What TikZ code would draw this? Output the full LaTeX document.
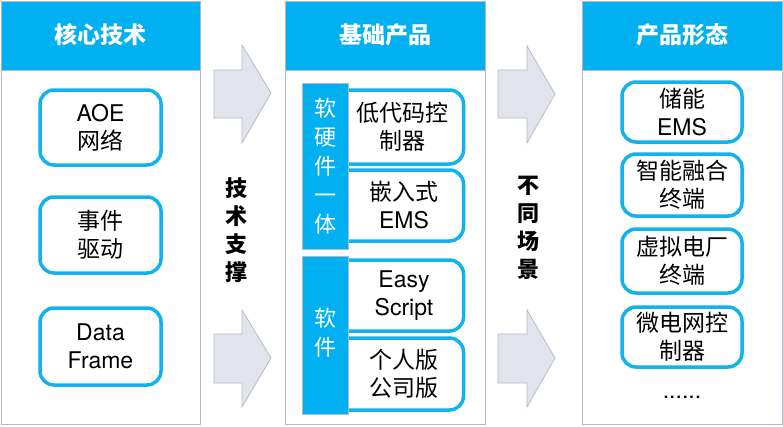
\documentclass[tikz,border=0pt]{standalone}
\usepackage{fontspec}
\setmainfont{TeX Gyre Heros}
\newfontfamily\cjk{Noto Sans CJK SC}
\newcommand{\zhx}[1]{{\cjk #1}}
\definecolor{hdrblue}{HTML}{00B0F0}
\definecolor{boxblue}{HTML}{12B2EE}
\definecolor{panelgrey}{HTML}{B4B8C4}
\definecolor{arrowfill}{HTML}{E1E4EC}
\definecolor{arrowline}{HTML}{B8BCC8}
\tikzset{
  panel/.style={draw=panelgrey, line width=1pt, fill=white},
  header/.style={fill=hdrblue, draw=panelgrey, line width=1pt},
  hdrtext/.style={text=white, font=\fontsize{23}{28}\selectfont\cjk\bfseries},
  itembox/.style={draw=boxblue, line width=3.5pt, rounded corners=14pt, fill=white, inner sep=0pt},
  itemtext/.style={align=center, font=\fontsize{23}{28}\selectfont, text=black, inner sep=0pt},
  bar/.style={fill=hdrblue, draw=panelgrey, line width=0.8pt},
  bartext/.style={align=center, text=white, font=\fontsize{22}{29}\selectfont\cjk, inner sep=0pt},
  vlabel/.style={align=center, text=black, font=\fontsize{22}{28}\selectfont\cjk\bfseries, inner sep=0pt},
  bigarrow/.style={fill=arrowfill, draw=arrowline, line width=0.8pt, line join=miter}
}
\begin{document}
\begin{tikzpicture}[x=1pt,y=-1pt]
\useasboundingbox (0,0) rectangle (783,426);
% panels
\draw[panel] (1,1) rectangle (200,424);
\draw[header] (1,1) rectangle (200,70);
\node[hdrtext] (h1) at (100.5,35) {核心技术};
\draw[panel] (285,1) rectangle (485,424);
\draw[header] (285,1) rectangle (485,70);
\node[hdrtext] (h2) at (385,35) {基础产品};
\draw[panel] (582,1) rectangle (782,424);
\draw[header] (582,1) rectangle (782,70);
\node[hdrtext] (h3) at (682,35) {产品形态};
% left items
\node[itembox, minimum width=121pt, minimum height=75pt] (l1) at (100.5,127.5) {};
\node[itemtext] (l1t) at (l1) {AOE\\\zhx{网络}};
\node[itembox, minimum width=121pt, minimum height=76pt] (l2) at (100.5,235) {};
\node[itemtext] (l2t) at (l2) {\zhx{事件}\\\zhx{驱动}};
\node[itembox, minimum width=121pt, minimum height=77pt] (l3) at (100.5,346.5) {};
\node[itemtext] (l3t) at (l3) {Data\\Frame};
% arrows
\draw[bigarrow] (214,70) -- (242,70) -- (242,45) -- (271,93) -- (242,143) -- (242,118) -- (214,118) -- cycle;
\draw[bigarrow] (214,334) -- (242,334) -- (242,310) -- (271,358) -- (242,407) -- (242,383) -- (214,383) -- cycle;
\draw[bigarrow] (498,70) -- (527,70) -- (527,46) -- (555,94) -- (527,143) -- (527,118) -- (498,118) -- cycle;
\draw[bigarrow] (498,334) -- (527,334) -- (527,310) -- (555,358) -- (527,407) -- (527,383) -- (498,383) -- cycle;
\node[vlabel] (v1) at (236,230) {技\\术\\支\\撑};
\node[vlabel] (v2) at (528,228) {不\\同\\场\\景};
% middle items
\node[itembox, minimum width=131pt, minimum height=74pt] (m1) at (398,127) {};
\node[itembox, minimum width=131pt, minimum height=71pt] (m2) at (398,205.5) {};
\node[itembox, minimum width=131pt, minimum height=71pt] (m3) at (398,295.5) {};
\node[itembox, minimum width=131pt, minimum height=72pt] (m4) at (398,374) {};
\draw[bar] (302,83) rectangle (348,249);
\draw[bar] (302,256) rectangle (348,414);
\node[bartext] (b1) at (325,166) {软\\硬\\件\\一\\体};
\node[bartext] (b2) at (325,333) {软\\件};
\node[itemtext] (m1t) at (402,127) {\zhx{低代码控}\\\zhx{制器}};
\node[itemtext] (m2t) at (404,205.5) {\zhx{嵌入式}\\EMS};
\node[itemtext] (m3t) at (404,295.5) {Easy\\Script};
\node[itemtext] (m4t) at (404,374) {\zhx{个人版}\\\zhx{公司版}};
% right items
\node[itembox, minimum width=120pt, minimum height=60pt] (r1) at (682,112) {};
\node[itemtext] (r1t) at (r1) {\zhx{储能}\\EMS};
\node[itembox, minimum width=120pt, minimum height=62pt] (r2) at (682,185) {};
\node[itemtext] (r2t) at (r2) {\zhx{智能融合}\\\zhx{终端}};
\node[itembox, minimum width=120pt, minimum height=64pt] (r3) at (682,261) {};
\node[itemtext] (r3t) at (r3) {\zhx{虚拟电厂}\\\zhx{终端}};
\node[itembox, minimum width=120pt, minimum height=60pt] (r4) at (682,337) {};
\node[itemtext] (r4t) at (r4) {\zhx{微电网控}\\\zhx{制器}};
\node[itemtext] (r5) at (682,397) {......};
\end{tikzpicture}
\end{document}
